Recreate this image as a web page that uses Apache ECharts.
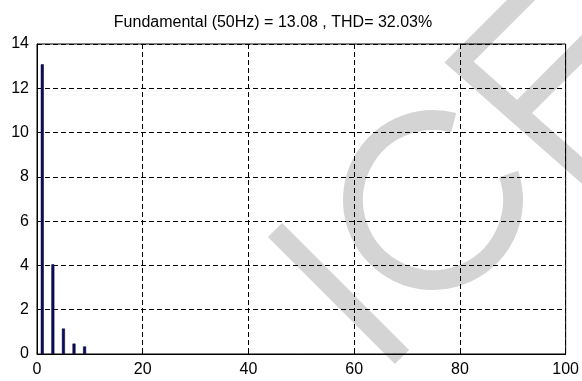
<!DOCTYPE html>
<html><head><meta charset="utf-8">
<script src="https://cdn.jsdelivr.net/npm/echarts@6/dist/echarts.min.js"></script>
<style>html,body{margin:0;padding:0;background:#fff}#c{width:582px;height:381px}</style>
</head><body><div id="c"></div>
<script>
const titleText = 'Fundamental (50Hz) = 13.08 , THD= 32.03%';
const harmonicOrder = [1, 3, 5, 7, 9];
const magnitude = [13.08, 4.05, 1.15, 0.47, 0.34];
const xTicks = [0, 20, 40, 60, 80, 100];
const yTicks = [0, 2, 4, 6, 8, 10, 12, 14];

const chart = echarts.init(document.getElementById('c'), null, {renderer: 'canvas'});
const font = 'Liberation Sans, Arial, sans-serif';
const wm = {stroke: '#d4d4d4', lineWidth: 20, fill: null, lineCap: 'butt'};
chart.setOption({
  animation: false,
  backgroundColor: '#fff',
  title: {
    text: titleText, left: 268, top: 10, textAlign: 'center',
    textStyle: {fontFamily: font, fontSize: 16, fontWeight: 'normal', color: '#000'}
  },
  grid: {left: 37, right: 15, top: 44, bottom: 27, show: true, borderColor: '#000', borderWidth: 1, backgroundColor: 'transparent'},
  xAxis: {
    type: 'value', min: 0, max: 100, interval: 20,
    axisLine: {show: true, lineStyle: {color: '#000'}},
    axisTick: {show: true, inside: true, length: 5, lineStyle: {color: '#000'}},
    axisLabel: {fontFamily: font, fontSize: 16, color: '#000', margin: 8,
      formatter: v => xTicks.includes(v) ? String(v) : ''},
    splitLine: {show: true, lineStyle: {color: '#000', type: [5, 3], width: 1}}
  },
  yAxis: {
    type: 'value', min: 0, max: 14, interval: 2,
    axisLine: {show: true, lineStyle: {color: '#000'}},
    axisTick: {show: true, inside: true, length: 5, lineStyle: {color: '#000'}},
    axisLabel: {fontFamily: font, fontSize: 16, color: '#000', margin: 8,
      formatter: v => yTicks.includes(v) ? String(v) : ''},
    splitLine: {show: true, lineStyle: {color: '#000', type: [5, 3], width: 1}}
  },
  series: [{
    type: 'bar',
    data: harmonicOrder.map((h, i) => [h, magnitude[i]]),
    barWidth: 3,
    itemStyle: {color: '#0a0a6e', borderColor: '#000', borderWidth: 0.5}
  }],
  graphic: [{
    type: 'group', z: -100, silent: true,
    children: [
      {type: 'line', z: -100, shape: {x1: 275, y1: 230, x2: 402, y2: 357}, style: wm},
      {type: 'arc', z: -100, shape: {cx: 433, cy: 200, r: 80, startAngle: -19 * Math.PI / 180, endAngle: 285 * Math.PI / 180, clockwise: true}, style: wm},
      {type: 'polyline', z: -100, shape: {points: [[560, -39], [459, 62], [620, 204]]}, style: Object.assign({}, wm, {lineJoin: 'miter'})},
      {type: 'line', z: -100, shape: {x1: 517, y1: 114, x2: 620, y2: 11}, style: wm}
    ]
  }]
});
</script></body></html>
